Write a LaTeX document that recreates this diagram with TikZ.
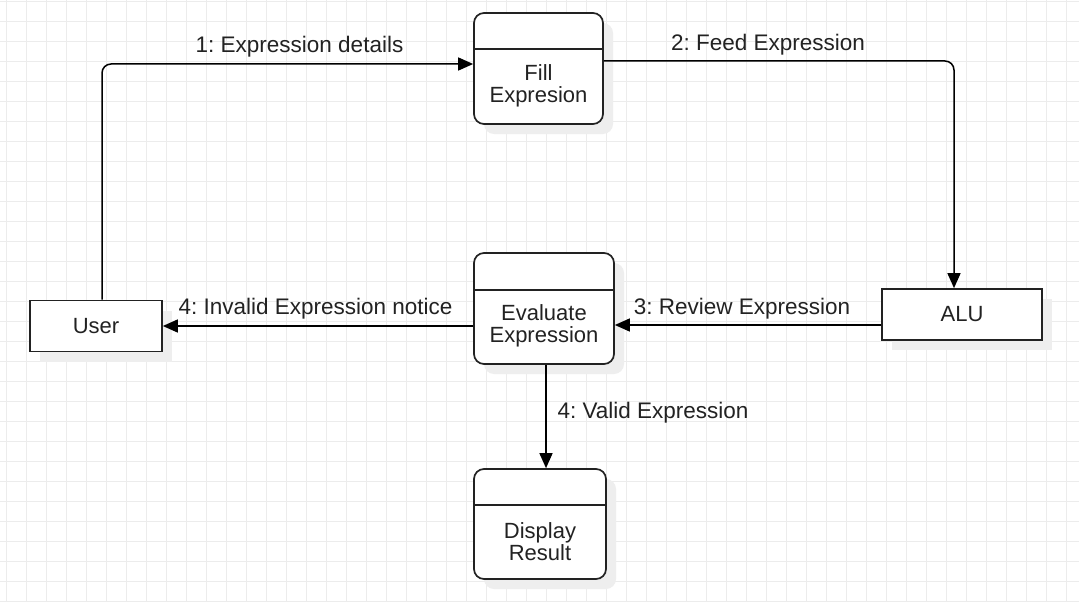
\documentclass[tikz,border=0pt]{standalone}
\usepackage{fontspec}
\setmainfont{Liberation Sans}
\usetikzlibrary{arrows.meta,shadows}
\definecolor{gridc}{RGB}{236,236,236}
\definecolor{shad}{RGB}{238,238,238}
\definecolor{ink}{RGB}{34,34,34}
\frenchspacing
\begin{document}
\begin{tikzpicture}[x=1pt,y=-1pt,
  shadowed/.style={drop shadow={shadow xshift=10pt, shadow yshift=-10pt, fill=shad, opacity=1}},
  procbox/.style={draw=ink, line width=1.7pt, fill=white, rounded corners=10pt, inner sep=0pt, shadowed},
  entbox/.style={draw=ink, line width=1.7pt, fill=white, inner sep=0pt, shadowed, font=\fontsize{22}{22}\selectfont, text=ink},
  divider/.style={draw=ink, line width=1.7pt},
  txt/.style={font=\fontsize{22}{22}\selectfont, text=ink, align=center, inner sep=0pt},
  lbl/.style={font=\fontsize{22.5}{22}\selectfont, text=ink, inner sep=0pt},
  conn/.style={draw=black, line width=1.5pt, rounded corners=9pt, -{Triangle[length=15pt,width=13pt]}}]
\fill[white] (0,0) rectangle (1079,602);
\useasboundingbox (0,0) rectangle (1079,602);
\foreach \i in {0,...,53} \draw[gridc, line width=1pt] ({6.7+20*\i},0) -- ({6.7+20*\i},602);
\foreach \j in {0,...,30} \draw[gridc, line width=1pt] (0,{1.7+20*\j}) -- (1079,{1.7+20*\j});

% nodes
\node[procbox, minimum width=129pt, minimum height=111pt] (fill) at (538.5,68.5) {};
\draw[divider] ([yshift=-37pt]fill.north west) -- ([yshift=-37pt]fill.north east);
\node[txt] (filltxt) at (538.5,86) {Fill\\Expresion};

\node[entbox, minimum width=132pt, minimum height=51pt] (user) at (96,326) {User};

\node[procbox, minimum width=140pt, minimum height=111pt] (eval) at (544,308.5) {};
\draw[divider] ([yshift=-38pt]eval.north west) -- ([yshift=-38pt]eval.north east);
\node[txt] (evaltxt) at (544,326) {Evaluate\\Expression};

\node[entbox, minimum width=160pt, minimum height=51pt] (alu) at (962,314.5) {ALU};

\node[procbox, minimum width=132pt, minimum height=110pt] (disp) at (540,524) {};
\draw[divider] ([yshift=-37pt]disp.north west) -- ([yshift=-37pt]disp.north east);
\node[txt] (disptxt) at (540,542) {Display\\Result};

% connectors
\draw[conn] ([xshift=6pt]user.north) |- ([yshift=4.5pt]fill.west);
\draw[conn] ([yshift=7.5pt]fill.east) -| ([xshift=-8pt]alu.north);
\draw[conn] ([yshift=-10.5pt]alu.west) -- ([yshift=-10.5pt]alu.west -| eval.east);
\draw[conn] (eval.west |- user.east) -- (user.east);
\draw[conn] ([xshift=2pt]eval.south) -- ([xshift=2pt]eval.south |- disp.north);

% labels
\node[lbl] (l1) at (299.5,47) {1: Expression details};
\node[lbl] (l2) at (768,45) {2: Feed Expression};
\node[lbl] (l3) at (742,309) {3: Review Expression};
\node[lbl] (l4) at (315.5,309) {4: Invalid Expression notice};
\node[lbl] (l5) at (653,413) {4: Valid Expression};
\end{tikzpicture}
\end{document}
